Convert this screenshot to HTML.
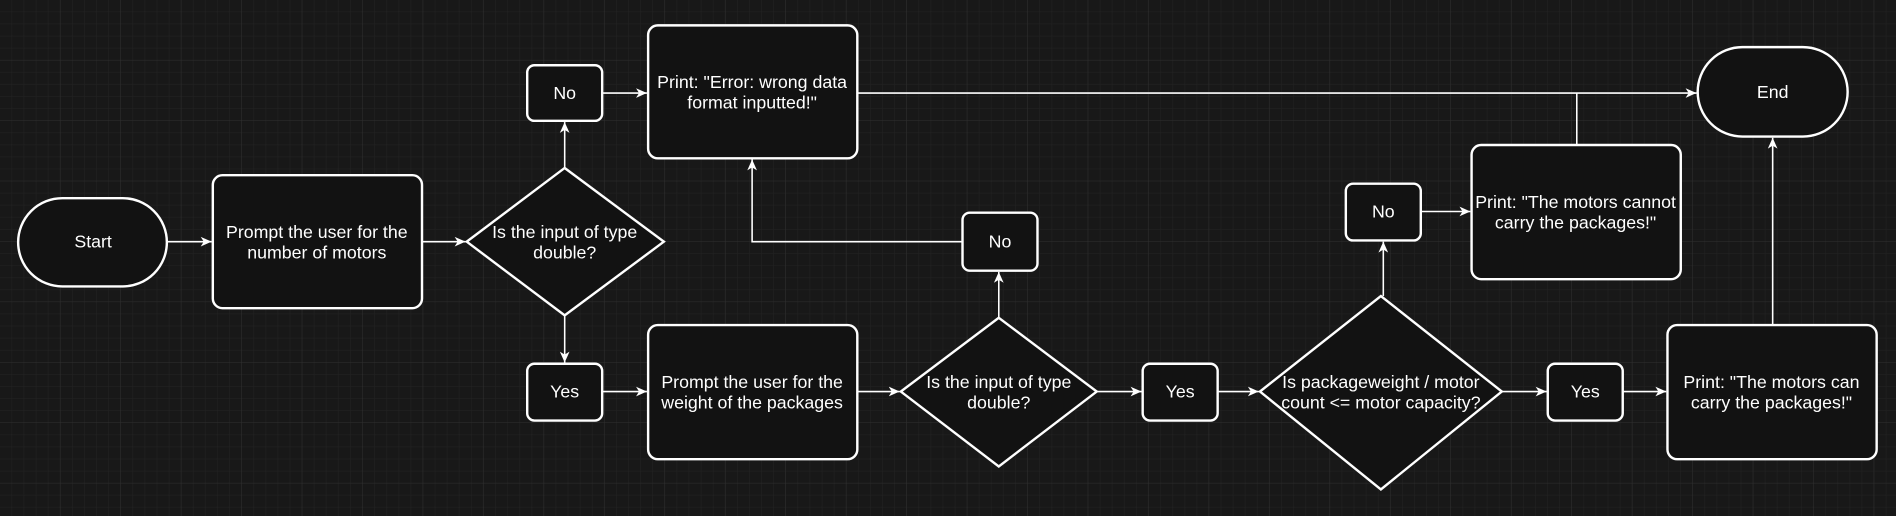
<!DOCTYPE html>
<html><head><meta charset="utf-8"><style>
html,body{margin:0;padding:0;background:#181818;width:1896px;height:516px;overflow:hidden}
svg{display:block}
text{font-family:"Liberation Sans",Arial,sans-serif;font-size:14.7px;fill:#fff;text-anchor:middle}
.s{fill:#121212;stroke:#fff;stroke-width:2}
.e{stroke:#fff;stroke-width:1.3;fill:none}
</style></head><body>
<svg width="1896" height="516" viewBox="0 0 1568 427" preserveAspectRatio="none">
<defs>
<pattern id="g" width="10" height="10" patternUnits="userSpaceOnUse"><path d="M10 0V10H0" fill="none" stroke="#242424" stroke-width="0.8"/></pattern>
<pattern id="G" width="50" height="50" patternUnits="userSpaceOnUse"><rect width="50" height="50" fill="url(#g)"/><path d="M50 0V50H0" fill="none" stroke="#303030" stroke-width="0.9"/></pattern>
<marker id="a" markerWidth="10" markerHeight="10" refX="9" refY="5" orient="auto" markerUnits="userSpaceOnUse"><path d="M0 1 L9 5 L0 9 L2.5 5Z" fill="#fff"/></marker>
</defs>
<rect width="1568" height="427" fill="#181818"/>
<rect width="1568" height="427" fill="url(#G)"/>
<g class="e">
<path d="M138 200H175" marker-end="url(#a)"/>
<path d="M349 200H385" marker-end="url(#a)"/>
<path d="M467 139V101" marker-end="url(#a)"/>
<path d="M498 77H535" marker-end="url(#a)"/>
<path d="M467 261V300" marker-end="url(#a)"/>
<path d="M498 324H535" marker-end="url(#a)"/>
<path d="M709 324H744" marker-end="url(#a)"/>
<path d="M826 263V225" marker-end="url(#a)"/>
<path d="M796 200H622V132" marker-end="url(#a)"/>
<path d="M907 324H944" marker-end="url(#a)"/>
<path d="M1007 324H1041" marker-end="url(#a)"/>
<path d="M1144 245V200" marker-end="url(#a)"/>
<path d="M1175 175H1216" marker-end="url(#a)"/>
<path d="M1242 324H1279" marker-end="url(#a)"/>
<path d="M1342 324H1378" marker-end="url(#a)"/>
<path d="M1466 269V114" marker-end="url(#a)"/>
<path d="M709 77H1403" marker-end="url(#a)"/>
<path d="M1304 120V77"/>
</g>
<rect class="s" x="15" y="164" width="123" height="73" rx="36.5"/>
<text x="77" y="205">Start</text>
<rect class="s" x="176" y="145" width="173" height="110" rx="8"/>
<text x="262" y="197">Prompt the user for the</text><text x="262" y="214">number of motors</text>
<polygon class="s" points="467,139 549,200 467,261 386,200"/>
<text x="467" y="197">Is the input of type</text><text x="467" y="214">double?</text>
<rect class="s" x="436" y="54" width="62" height="46" rx="6"/><text x="467" y="82">No</text>
<rect class="s" x="536" y="21" width="173" height="110" rx="8"/>
<text x="622" y="73">Print: "Error: wrong data</text><text x="622" y="90">format inputted!"</text>
<rect class="s" x="1404" y="39" width="124" height="74" rx="37"/><text x="1466" y="81">End</text>
<rect class="s" x="436" y="301" width="62" height="47" rx="6"/><text x="467" y="329">Yes</text>
<rect class="s" x="536" y="269" width="173" height="111" rx="8"/>
<text x="622" y="321">Prompt the user for the</text><text x="622" y="338">weight of the packages</text>
<polygon class="s" points="826,263 907,324 826,386 745,324"/>
<text x="826" y="321">Is the input of type</text><text x="826" y="338">double?</text>
<rect class="s" x="796" y="176" width="62" height="48" rx="6"/><text x="827" y="205">No</text>
<rect class="s" x="945" y="301" width="62" height="47" rx="6"/><text x="976" y="329">Yes</text>
<polygon class="s" points="1142,245 1242,324 1142,405 1042,324"/>
<text x="1142" y="321">Is packageweight / motor</text><text x="1142" y="338">count &lt;= motor capacity?</text>
<rect class="s" x="1113" y="152" width="62" height="47" rx="6"/><text x="1144" y="180">No</text>
<rect class="s" x="1217" y="120" width="173" height="111" rx="8"/>
<text x="1303" y="172">Print: "The motors cannot</text><text x="1303" y="189">carry the packages!"</text>
<rect class="s" x="1280" y="301" width="62" height="47" rx="6"/><text x="1311" y="329">Yes</text>
<rect class="s" x="1379" y="269" width="173" height="111" rx="8"/>
<text x="1465" y="321">Print: "The motors can</text><text x="1465" y="338">carry the packages!"</text>
</svg>
</body></html>
